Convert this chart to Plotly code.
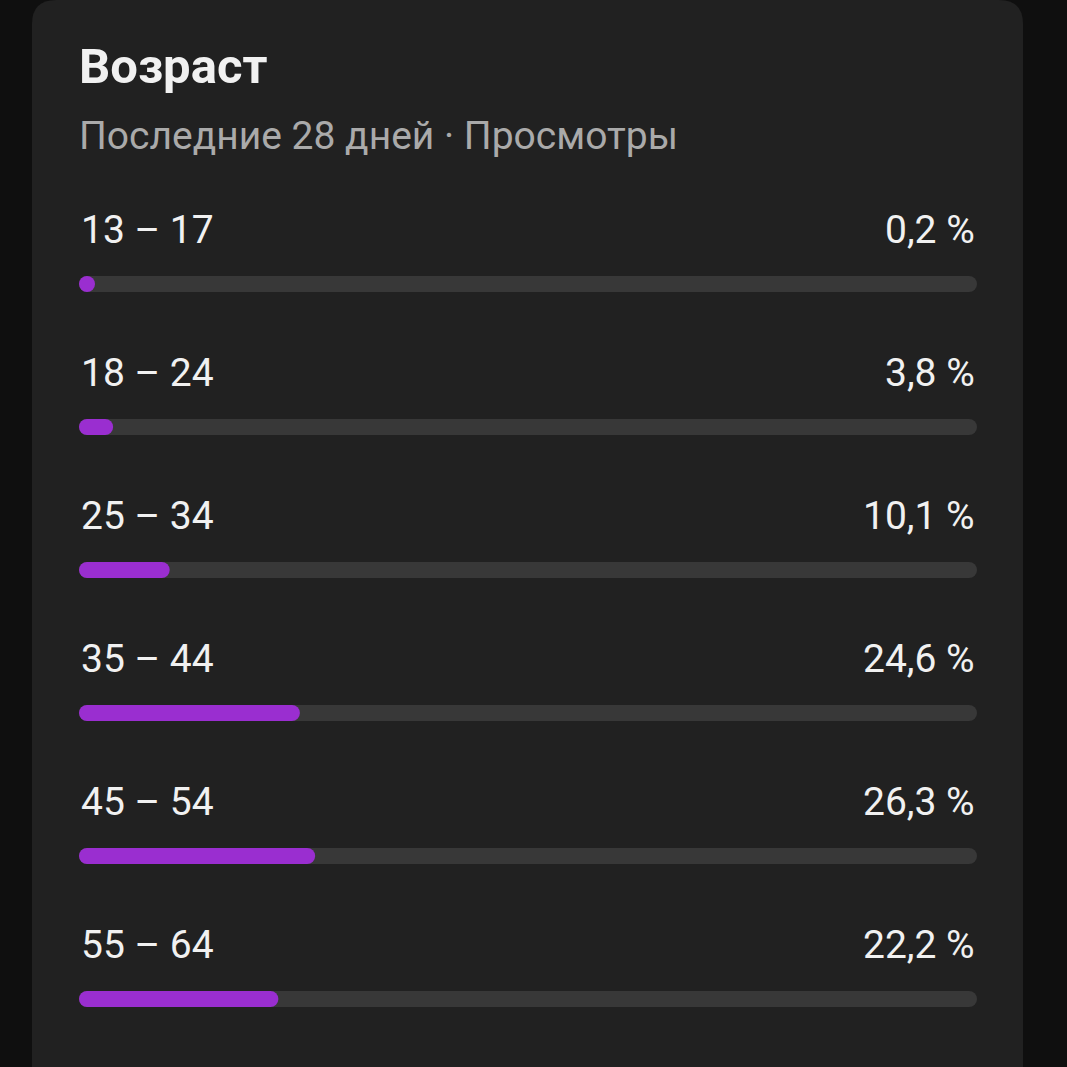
import plotly.graph_objects as go

# ---- data ----
age_groups = ["13 – 17", "18 – 24", "25 – 34", "35 – 44", "45 – 54", "55 – 64"]
share_pct = [0.2, 3.8, 10.1, 24.6, 26.3, 22.2]
share_labels = ["0,2 %", "3,8 %", "10,1 %", "24,6 %", "26,3 %", "22,2 %"]
title_text = "Возраст"
subtitle_text = "Последние 28 дней · Просмотры"

# ---- layout constants (pixels) ----
W = H = 1067
X0, X1 = 79, 977          # track left/right
ROW0, ROW_STEP = 284, 143  # first track centre, spacing
BAR_PX = 16

BG = "#0f0f0f"
CARD = "#212121"
TRACK = "#383838"
PURPLE = "#9a2ed0"
WHITE = "#f1f1f1"
GREY = "#aaaaaa"
FONT = "Roboto"

px_per_unit = (X1 - X0) / 100.0
min_len = BAR_PX / px_per_unit               # a pill is never shorter than its round cap
display_len = [max(v, min_len) for v in share_pct]

n = len(age_groups)
idx = list(range(n))
bar_w = BAR_PX / ROW_STEP

fig = go.Figure()
# Bars with an explicit base are rounded at both ends -> pill shapes
fig.add_trace(go.Bar(
    y=idx, x=[100] * n, base=[0] * n, orientation="h", width=bar_w,
    marker=dict(color=TRACK, cornerradius=BAR_PX / 2, line=dict(width=0)),
    hoverinfo="skip", showlegend=False,
))
fig.add_trace(go.Bar(
    y=idx, x=display_len, base=[0] * n, orientation="h", width=bar_w,
    marker=dict(color=PURPLE, cornerradius=BAR_PX / 2, line=dict(width=0)),
    customdata=share_labels, hovertemplate="%{customdata}<extra></extra>",
    showlegend=False,
))

annotations = []
for i, (g, lab) in enumerate(zip(age_groups, share_labels)):
    annotations.append(dict(
        x=X0 / W, xref="paper", y=i, yref="y", yshift=54,
        xanchor="left", yanchor="middle", text=g, showarrow=False,
        font=dict(family=FONT, size=39, color=WHITE),
    ))
    annotations.append(dict(
        x=X1 / W, xref="paper", y=i, yref="y", yshift=54,
        xanchor="right", yanchor="middle", text=lab, showarrow=False,
        font=dict(family=FONT, size=39, color=WHITE),
    ))
annotations.append(dict(
    x=77 / W, xref="paper", y=1 - 67 / H, yref="paper",
    xanchor="left", yanchor="middle", text="<b>" + title_text + "</b>",
    showarrow=False, font=dict(family=FONT, size=49, color=WHITE),
))
annotations.append(dict(
    x=77 / W, xref="paper", y=1 - 136 / H, yref="paper",
    xanchor="left", yanchor="middle", text=subtitle_text,
    showarrow=False, font=dict(family=FONT, size=39, color=GREY),
))

# rounded card
cx0, cx1 = 32 / W, 1023 / W
r_x, r_y = 24 / W, 24 / H
top = 1.0
card_path = (
    f"M {cx0},-0.05 L {cx0},{top - r_y} Q {cx0},{top} {cx0 + r_x},{top} "
    f"L {cx1 - r_x},{top} Q {cx1},{top} {cx1},{top - r_y} L {cx1},-0.05 Z"
)

fig.update_layout(
    width=W, height=H,
    margin=dict(l=0, r=0, t=0, b=0),
    paper_bgcolor=BG, plot_bgcolor="rgba(0,0,0,0)",
    barmode="overlay",
    xaxis=dict(domain=[X0 / W, X1 / W], range=[0, 100], visible=False, fixedrange=True),
    yaxis=dict(domain=[0, 1], range=[(H - ROW0) / ROW_STEP, -ROW0 / ROW_STEP],
               visible=False, fixedrange=True),
    shapes=[dict(type="path", xref="paper", yref="paper", path=card_path,
                 fillcolor=CARD, line=dict(width=0), layer="below")],
    annotations=annotations,
    font=dict(family=FONT),
)

fig.write_html(
    "out.html",
    config={"displayModeBar": False},
    post_script="document.body.style.margin='0';document.body.style.overflow='hidden';",
)
